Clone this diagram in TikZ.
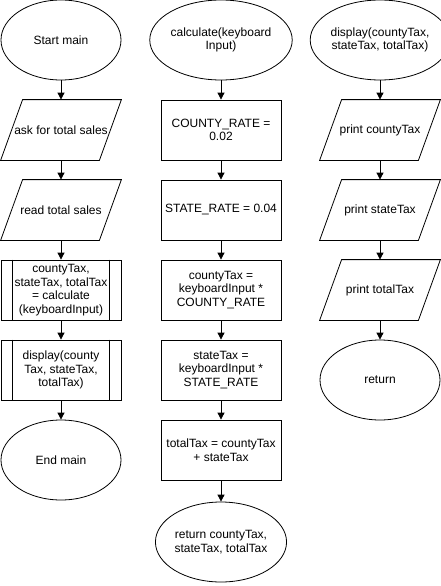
\documentclass[tikz,border=0pt]{standalone}
\usepackage{fontspec}
\setmainfont{Liberation Sans}
\usetikzlibrary{shapes.geometric,arrows.meta}
\tikzset{
  base/.style={inner sep=0pt, align=center, font=\fontsize{12}{13.5}\selectfont, line width=0.8pt},
  term/.style={base, draw, ellipse, minimum width=120pt, minimum height=80pt},
  proc/.style={base, draw, rectangle, minimum width=120pt, minimum height=60pt},
  iobox/.style={base, rectangle, minimum width=120pt, minimum height=60pt},
  subr/.style={base, draw, rectangle, minimum width=120pt, minimum height=60pt},
  flow/.style={line width=0.8pt, -{Triangle[width=7pt,length=7pt]}},
  shapeline/.style={line width=0.8pt}
}
\begin{document}
\begin{tikzpicture}[x=1pt,y=-1pt]
\useasboundingbox (0,0) rectangle (441,586);
% column 1
\node[term] (start) at (61,40) {Start main};
\node[iobox] (ask) at (61,130) {ask for total sales};
\node[iobox] (read) at (61,210) {read total sales};
\node[subr] (calc) at (61,290) {countyTax,\\ stateTax, totalTax\\ = calculate\\ (keyboardInput)};
\node[subr] (disp) at (61,370) {display(county\\ Tax, stateTax,\\ totalTax)};
\node[term] (endm) at (61,460) {End main};
% column 2
\node[term] (cfun) at (221,40) {calculate(keyboard\\ Input)};
\node[proc] (crate) at (221,130) {COUNTY\_RATE =\\ 0.02};
\node[proc] (srate) at (221,210) {STATE\_RATE = 0.04};
\node[proc] (ctax) at (221,290) {countyTax =\\ keyboardInput *\\ COUNTY\_RATE};
\node[proc] (stax) at (221,370) {stateTax =\\ keyboardInput *\\ STATE\_RATE};
\node[proc] (ttax) at (221,450) {totalTax = countyTax\\ + stateTax};
\node[term] (cret) at (221,542) {return countyTax,\\ stateTax, totalTax};
% column 3
\node[term] (dfun) at (380,40) {display(countyTax,\\ stateTax, totalTax)};
\node[iobox] (pc) at (380,130) {print countyTax};
\node[iobox] (ps) at (380,210) {print stateTax};
\node[iobox] (pt) at (380,290) {print totalTax};
\node[term] (dret) at (380,380) {return};
% parallelograms
\foreach \n in {ask,read,pc,ps,pt}{
  \draw[shapeline] ([xshift=22pt]\n.north west) -- (\n.north east)
    -- ([xshift=-22pt]\n.south east) -- (\n.south west) -- cycle;
}
% subroutine inner lines
\foreach \n in {calc,disp}{
  \draw[shapeline] ([xshift=12pt]\n.north west) -- ([xshift=12pt]\n.south west);
  \draw[shapeline] ([xshift=-12pt]\n.north east) -- ([xshift=-12pt]\n.south east);
}
% connectors
\draw[flow] (start) -- (ask);
\draw[flow] (ask) -- (read);
\draw[flow] (read) -- (calc);
\draw[flow] (calc) -- (disp);
\draw[flow] (disp) -- (endm);
\draw[flow] (cfun) -- (crate);
\draw[flow] (crate) -- (srate);
\draw[flow] (srate) -- (ctax);
\draw[flow] (ctax) -- (stax);
\draw[flow] (stax) -- (ttax);
\draw[flow] (ttax) -- (cret);
\draw[flow] (dfun) -- (pc);
\draw[flow] (pc) -- (ps);
\draw[flow] (ps) -- (pt);
\draw[flow] (pt) -- (dret);
\end{tikzpicture}
\end{document}
